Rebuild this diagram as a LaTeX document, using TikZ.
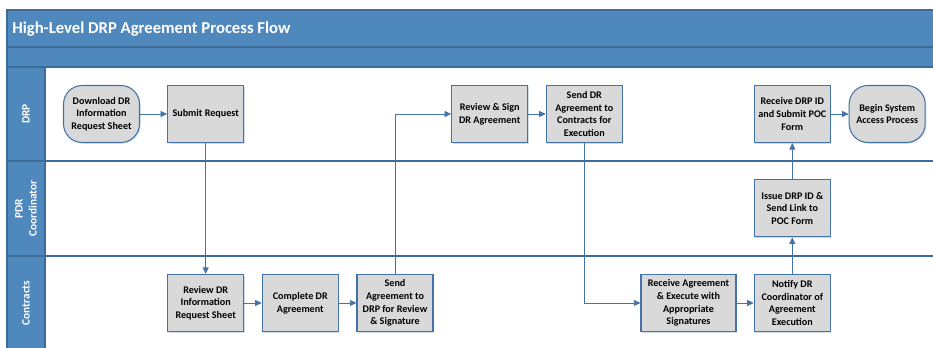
\documentclass[tikz,border=0pt]{standalone}
\usepackage{fontspec}
\setmainfont{Carlito}
\usetikzlibrary{arrows.meta,shadows}
\definecolor{hdr}{RGB}{79,136,188}
\definecolor{hdrline}{RGB}{62,108,152}
\definecolor{ln}{RGB}{68,114,170}
\definecolor{boxfill}{RGB}{217,217,217}
\begin{document}
\begin{tikzpicture}[x=0.75pt,y=-0.75pt,
  proc/.style={draw=ln, line width=0.8pt, fill=boxfill, minimum width=57pt, minimum height=42.75pt,
    align=center, font=\fontsize{7.6}{9.5}\selectfont\bfseries, inner sep=1pt,
    drop shadow={shadow xshift=0.8pt, shadow yshift=-0.8pt, opacity=0.25, fill=ln}},
  wideproc/.style={proc, minimum width=71.25pt},
  term/.style={proc, rounded corners=14pt},
  conn/.style={draw=ln, line width=0.7pt, -{Triangle[length=5pt,width=4.5pt]}},
  lanelbl/.style={rotate=90, text=white, align=center, font=\fontsize{8.5}{10.5}\selectfont\bfseries},
  lane/.style={draw=hdrline, line width=0.8pt}
]
\useasboundingbox (0,0) rectangle (933,348);
% header bands and lane column
\fill[hdr] (7,10) rectangle (940,67);
\fill[hdr] (7,67) rectangle (45,352);
\draw[lane] (7,352) -- (7,10) -- (940,10);
\draw[lane] (7,47) -- (940,47);
\draw[lane] (7,67) -- (940,67);
\draw[lane] (45,67) -- (45,352);
\draw[lane] (7,161) -- (940,161);
\draw[lane] (7,256) -- (940,256);
% title
\node[anchor=west, text=white, font=\fontsize{12.5}{15}\selectfont\bfseries, inner sep=0pt] (title) at (12,29) {High-Level DRP Agreement Process Flow};
% lane labels
\node[lanelbl] (ldrp) at (26,114) {DRP};
\node[lanelbl] (lpdr) at (26,208.5) {PDR\\Coordinator};
\node[lanelbl] (lcon) at (26,303) {Contracts};
% DRP lane
\node[term] (dl) at (101.5,114) {Download DR\\Information\\Request Sheet};
\node[proc] (sub) at (205.7,114) {Submit Request};
\node[proc] (rs) at (489.7,114) {Review \& Sign\\DR Agreement};
\node[proc] (sdr) at (584.3,114) {Send DR\\Agreement to\\Contracts for\\Execution};
\node[proc] (rdid) at (792.3,114) {Receive DRP ID\\and Submit POC\\Form};
\node[term] (begin) at (887.2,114) {Begin System\\Access Process};
% PDR lane
\node[proc] (issue) at (792.3,208.3) {Issue DRP ID \&\\Send Link to\\POC Form};
% Contracts lane
\node[proc] (rev) at (205.7,303) {Review DR\\Information\\Request Sheet};
\node[proc] (comp) at (300.3,303) {Complete DR\\Agreement};
\node[proc] (sendag) at (395,303) {Send\\Agreement to\\DRP for Review\\\& Signature};
\node[wideproc] (recv) at (688.5,303) {Receive Agreement\\\& Execute with\\Appropriate\\Signatures};
\node[proc] (notify) at (792.3,303) {Notify DR\\Coordinator of\\Agreement\\Execution};
% connectors
\draw[conn] (dl) -- (sub);
\draw[conn] (sub) -- (rev);
\draw[conn] (rev) -- (comp);
\draw[conn] (comp) -- (sendag);
\draw[conn] (sendag.north) |- (rs.west);
\draw[conn] (rs) -- (sdr);
\draw[conn] (sdr.south) |- (recv.west);
\draw[conn] (recv) -- (notify);
\draw[conn] (notify) -- (issue);
\draw[conn] (issue) -- (rdid);
\draw[conn] (rdid) -- (begin);
\end{tikzpicture}
\end{document}
